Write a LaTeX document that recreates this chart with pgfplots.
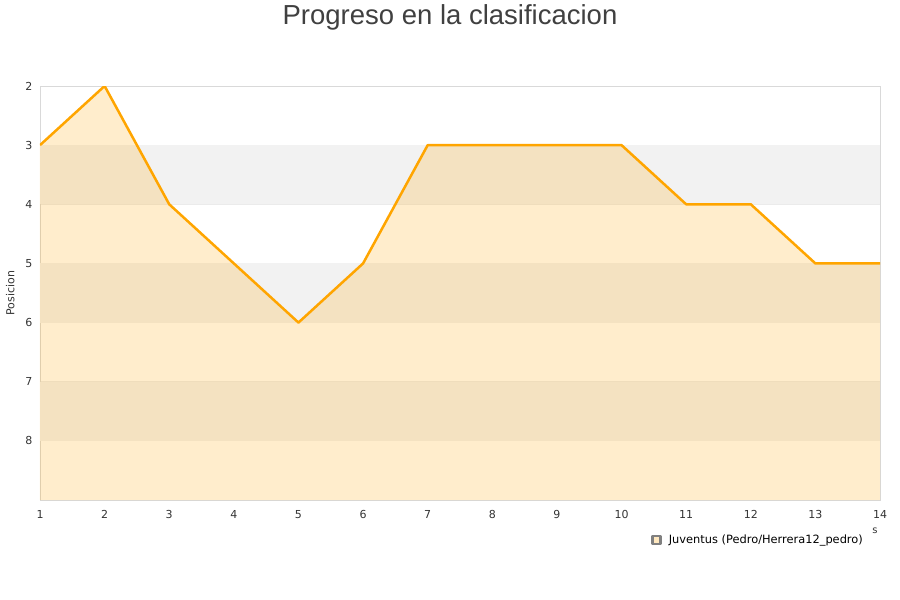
\documentclass[border=0pt]{standalone}
\usepackage{pgfplots}
\pgfplotsset{compat=1.18}
\usepackage{fontspec}
\setmainfont{DejaVu Sans}
\newfontfamily\titlefont{Liberation Sans}
\definecolor{linea}{HTML}{FFA500}
\definecolor{banda}{HTML}{F2F2F2}
\definecolor{marco}{HTML}{D9D9D9}
\definecolor{rejilla}{HTML}{EBEBEB}
\definecolor{texto}{HTML}{333333}
\begin{document}
\begin{tikzpicture}
\useasboundingbox (0,0) rectangle (900pt,600pt);
\node[anchor=base, text=black!75, font=\titlefont\fontsize{27.5}{32}\selectfont] at (450pt,575pt) {Progreso en la clasificacion};
\begin{axis}[
    at={(40pt,100pt)}, anchor=south west,
    scale only axis, width=840pt, height=414pt,
    xmin=1, xmax=14, ymin=2, ymax=9,
    y dir=reverse,
    xtick={1,...,14}, ytick={2,...,8},
    tick style={draw=none},
    axis line style={marco},
    ymajorgrids, grid style={rejilla, line width=0.8pt},
    ticklabel style={font=\fontsize{11}{13}\selectfont, text=texto},
    xticklabel shift=7pt, yticklabel shift=4pt,
    /pgf/number format/assume math mode=true,
    ylabel={Posicion}, ylabel style={font=\fontsize{11}{13}\selectfont, text=texto},
    ylabel shift=4pt,
    legend style={at={(axis description cs:0.724,-0.097)}, anchor=west, draw=none, fill=none,
        font=\fontsize{11.4}{13}\selectfont},
    legend cell align=left,
]
\fill[banda] (axis cs:1,3) rectangle (axis cs:14,4);
\fill[banda] (axis cs:1,5) rectangle (axis cs:14,6);
\fill[banda] (axis cs:1,7) rectangle (axis cs:14,8);
\addplot[draw=none, fill=linea, fill opacity=0.2, forget plot] coordinates {
(1,3)(2,2)(3,4)(4,5)(5,6)(6,5)(7,3)(8,3)(9,3)(10,3)(11,4)(12,4)(13,5)(14,5)(14,9)(1,9)
};
\addplot[linea, line width=2.5pt, line join=round,
    legend image code/.code={\draw[black!50, fill=linea, fill opacity=0.25, draw opacity=1] (0pt,-4pt) rectangle (8pt,4pt);}]
coordinates {
(1,3)(2,2)(3,4)(4,5)(5,6)(6,5)(7,3)(8,3)(9,3)(10,3)(11,4)(12,4)(13,5)(14,5)
};
\addlegendentry{\hspace{5pt}Juventus (Pedro/Herrera12\_pedro)}
\end{axis}
\node[text=texto, font=\fontsize{10}{12}\selectfont] at (875pt,69pt) {s};
\end{tikzpicture}
\end{document}
